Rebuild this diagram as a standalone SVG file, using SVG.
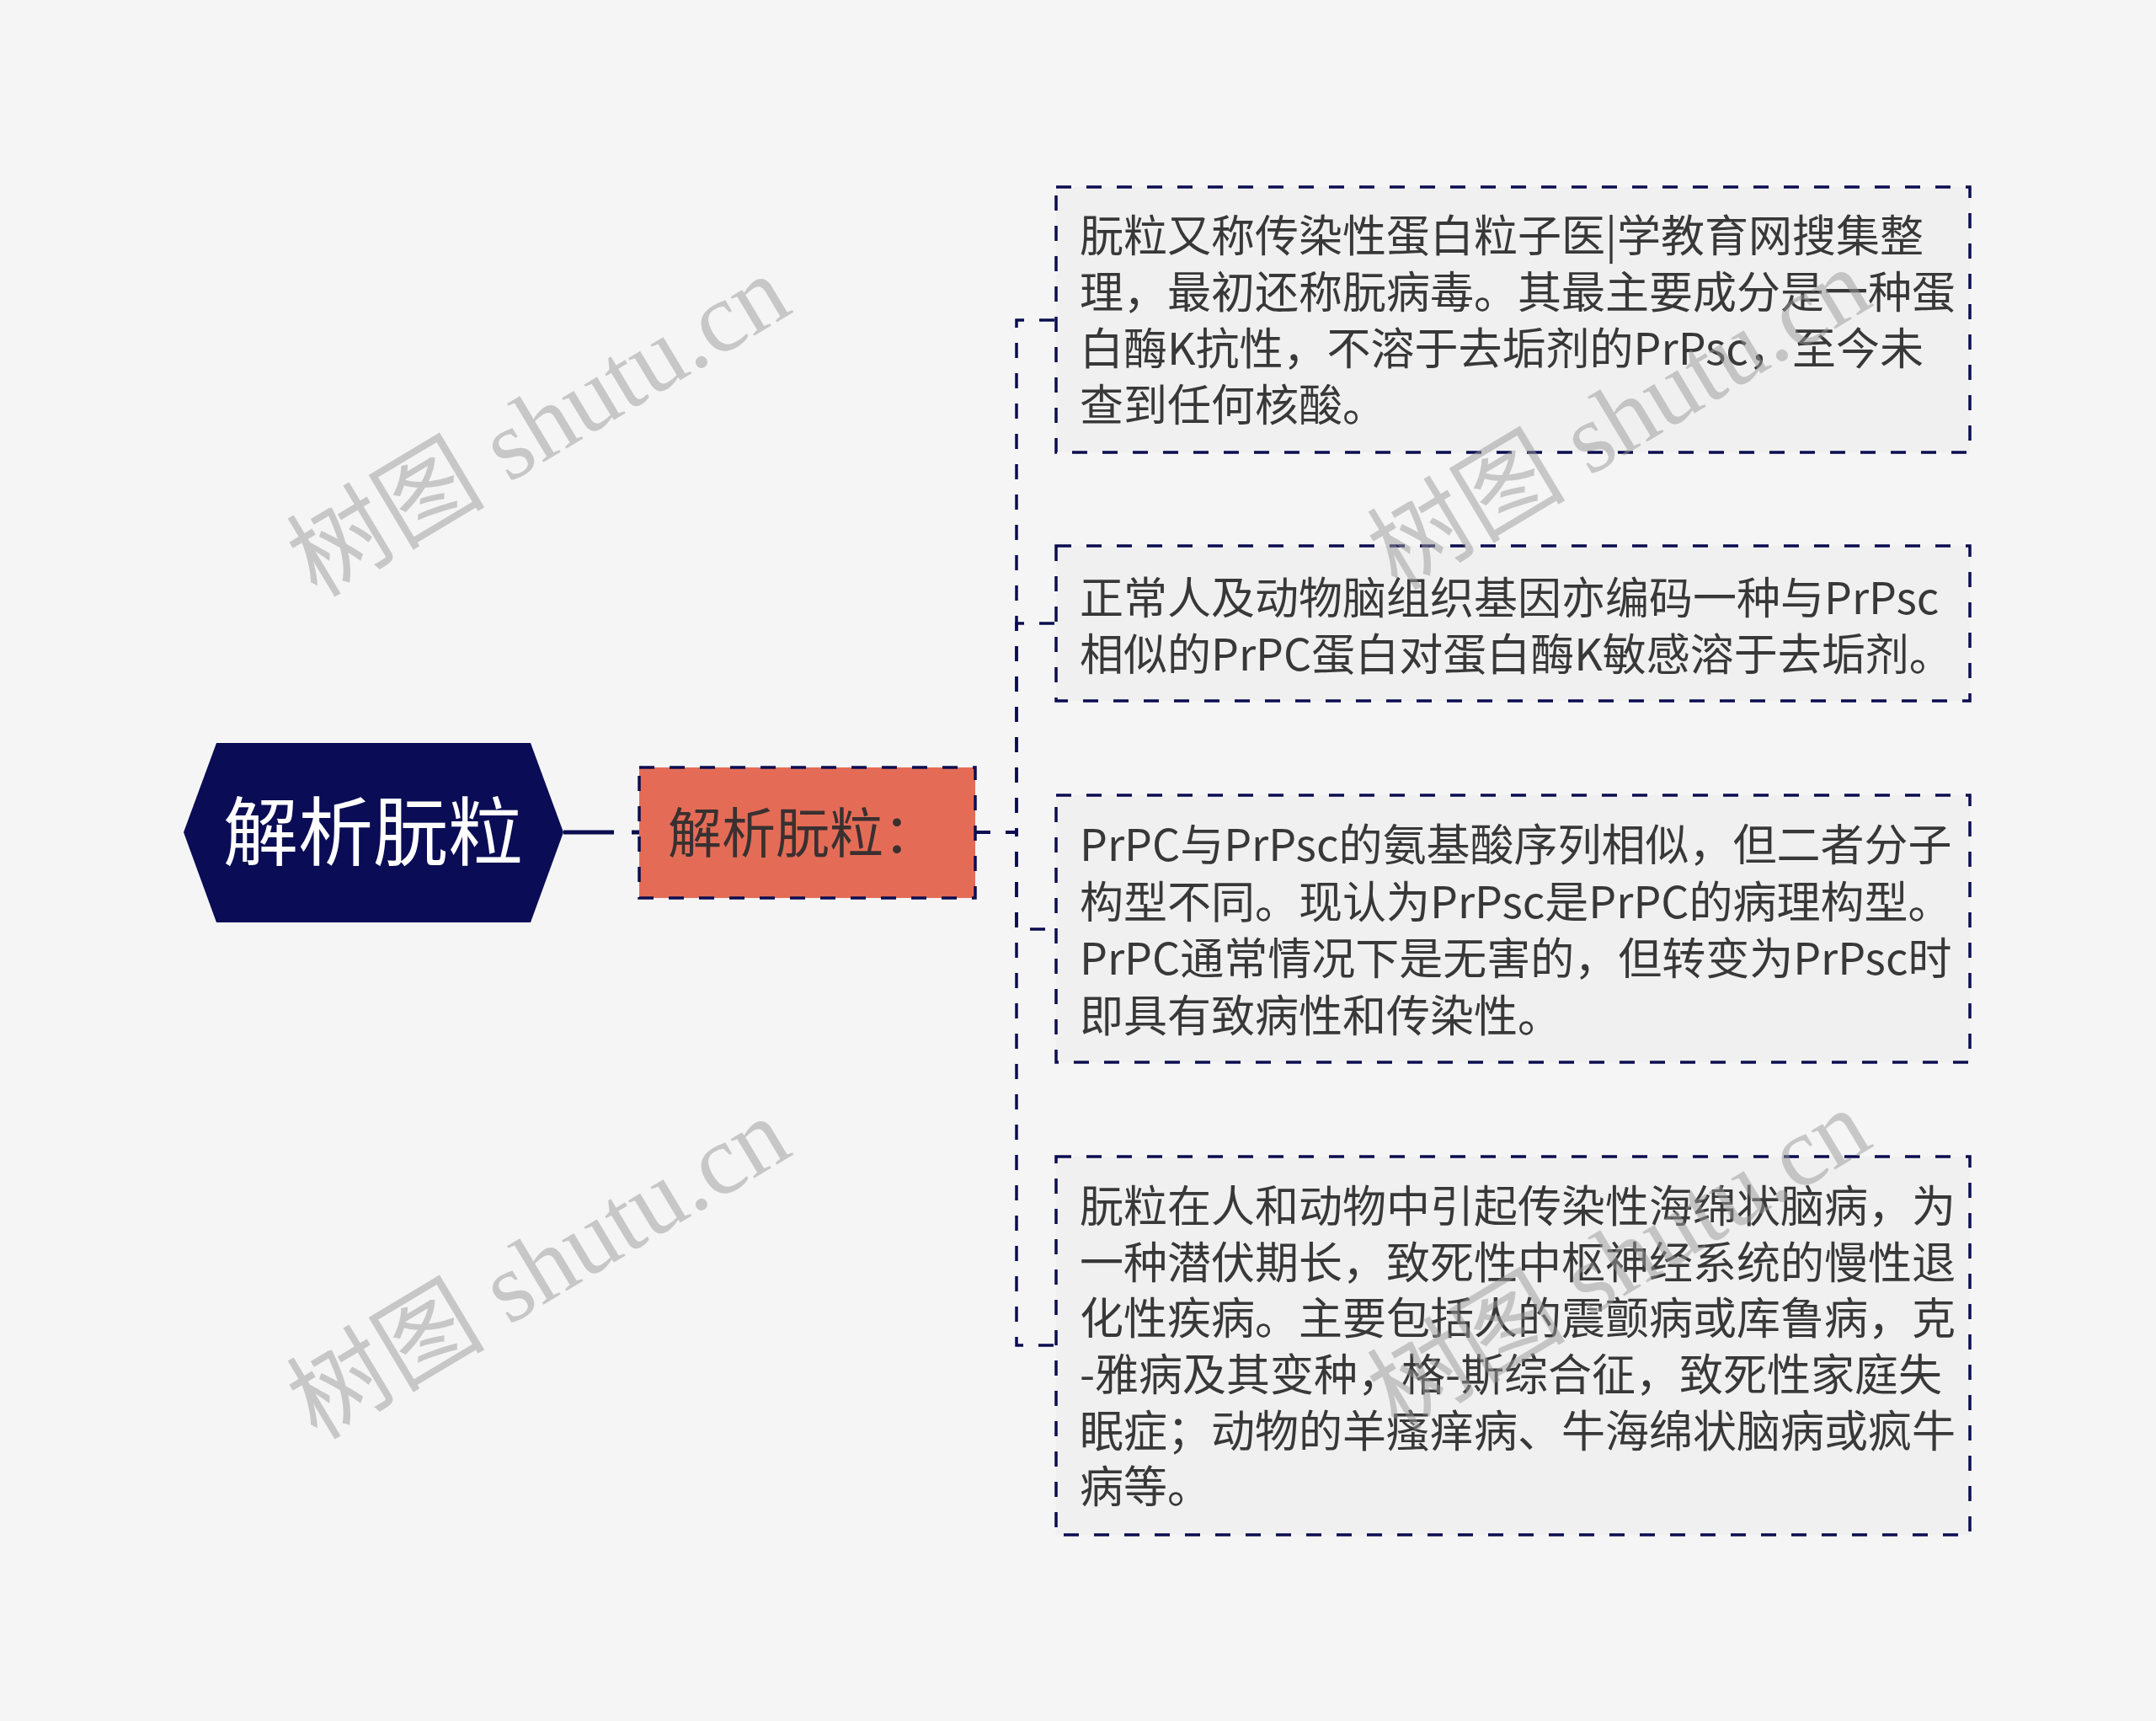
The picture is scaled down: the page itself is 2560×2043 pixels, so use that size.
<svg xmlns="http://www.w3.org/2000/svg" width="2560" height="2043" viewBox="0 0 2560 2043">
<style>
.bg{fill:#f5f5f5}
.box{fill:#f0f0f0;stroke:#0b0d50;stroke-width:3.5;stroke-dasharray:18 18}
.sub{fill:#e46c56;stroke:#0b0d50;stroke-width:3.5;stroke-dasharray:18 18}
.conn{fill:none;stroke:#0b0d50;stroke-width:3.5;stroke-dasharray:18 18}
.t{font-family:"Noto Sans CJK SC","Noto Sans",sans-serif;font-size:52px;fill:#383838}
.wm{font-family:"Liberation Serif","Noto Sans CJK SC",serif;font-size:118px;fill:#9a9a9a;opacity:0.5}
</style>
<rect class="bg" x="0" y="0" width="2560" height="2043"/>
<g id="connectors">
<line x1="669" y1="988" x2="760" y2="988" stroke="#0b0d50" stroke-width="5" stroke-dasharray="60 21 20"/>
<path class="conn" d="M1158,988 H1207 V380 H1254"/>
<path class="conn" d="M1158,988 H1207 V740 H1254"/>
<path class="conn" d="M1158,988 H1207 V1103 H1254"/>
<path class="conn" d="M1158,988 H1207 V1597 H1254"/>
</g>
<g id="root">
<polygon points="218,988 257,882 630,882 669,988 630,1095 257,1095" fill="#0a0d55"/>
<text x="443" y="1020" text-anchor="middle" style="font-family:'Noto Sans CJK SC','Noto Sans',sans-serif;font-size:89px;fill:#ffffff">解析朊粒</text>
</g>
<g id="sub">
<rect class="sub" x="759" y="911" width="399" height="155"/>
<text x="793" y="1012" style="font-family:'Noto Sans CJK SC','Noto Sans',sans-serif;font-size:64px;fill:#3a3030">解析朊粒：</text>
</g>
<g id="box1">
<rect class="box" x="1254" y="222" width="1085" height="315"/>
<text class="t"><tspan x="1282" y="299">朊粒又称传染性蛋白粒子医|学教育网搜集整</tspan><tspan x="1282" y="366">理，最初还称朊病毒。其最主要成分是一种蛋</tspan><tspan x="1282" y="433">白酶K抗性，不溶于去垢剂的PrPsc，至今未</tspan><tspan x="1282" y="500">查到任何核酸。</tspan></text>
</g>
<g id="box2">
<rect class="box" x="1254" y="648" width="1085" height="184"/>
<text class="t"><tspan x="1282" y="729">正常人及动物脑组织基因亦编码一种与PrPsc</tspan><tspan x="1282" y="796">相似的PrPC蛋白对蛋白酶K敏感溶于去垢剂。</tspan></text>
</g>
<g id="box3">
<rect class="box" x="1254" y="944" width="1085" height="317"/>
<text class="t"><tspan x="1282" y="1022">PrPC与PrPsc的氨基酸序列相似，但二者分子</tspan><tspan x="1282" y="1090">构型不同。现认为PrPsc是PrPC的病理构型。</tspan><tspan x="1282" y="1157">PrPC通常情况下是无害的，但转变为PrPsc时</tspan><tspan x="1282" y="1225">即具有致病性和传染性。</tspan></text>
</g>
<g id="box4">
<rect class="box" x="1254" y="1373" width="1085" height="449"/>
<text class="t"><tspan x="1282" y="1451">朊粒在人和动物中引起传染性海绵状脑病，为</tspan><tspan x="1282" y="1518">一种潜伏期长，致死性中枢神经系统的慢性退</tspan><tspan x="1282" y="1584">化性疾病。主要包括人的震颤病或库鲁病，克</tspan><tspan x="1282" y="1651">-雅病及其变种，格-斯综合征，致死性家庭失</tspan><tspan x="1282" y="1718">眠症；动物的羊瘙痒病、牛海绵状脑病或疯牛</tspan><tspan x="1282" y="1784">病等。</tspan></text>
</g>
<g id="watermarks">
<text class="wm" x="660" y="540" text-anchor="middle" transform="rotate(-31 660 540)">树图 shutu.cn</text>
<text class="wm" x="660" y="1540" text-anchor="middle" transform="rotate(-31 660 1540)">树图 shutu.cn</text>
<text class="wm" x="1943" y="532" text-anchor="middle" transform="rotate(-31 1943 532)">树图 shutu.cn</text>
<text class="wm" x="1943" y="1530" text-anchor="middle" transform="rotate(-31 1943 1530)">树图 shutu.cn</text>
</g>
</svg>
